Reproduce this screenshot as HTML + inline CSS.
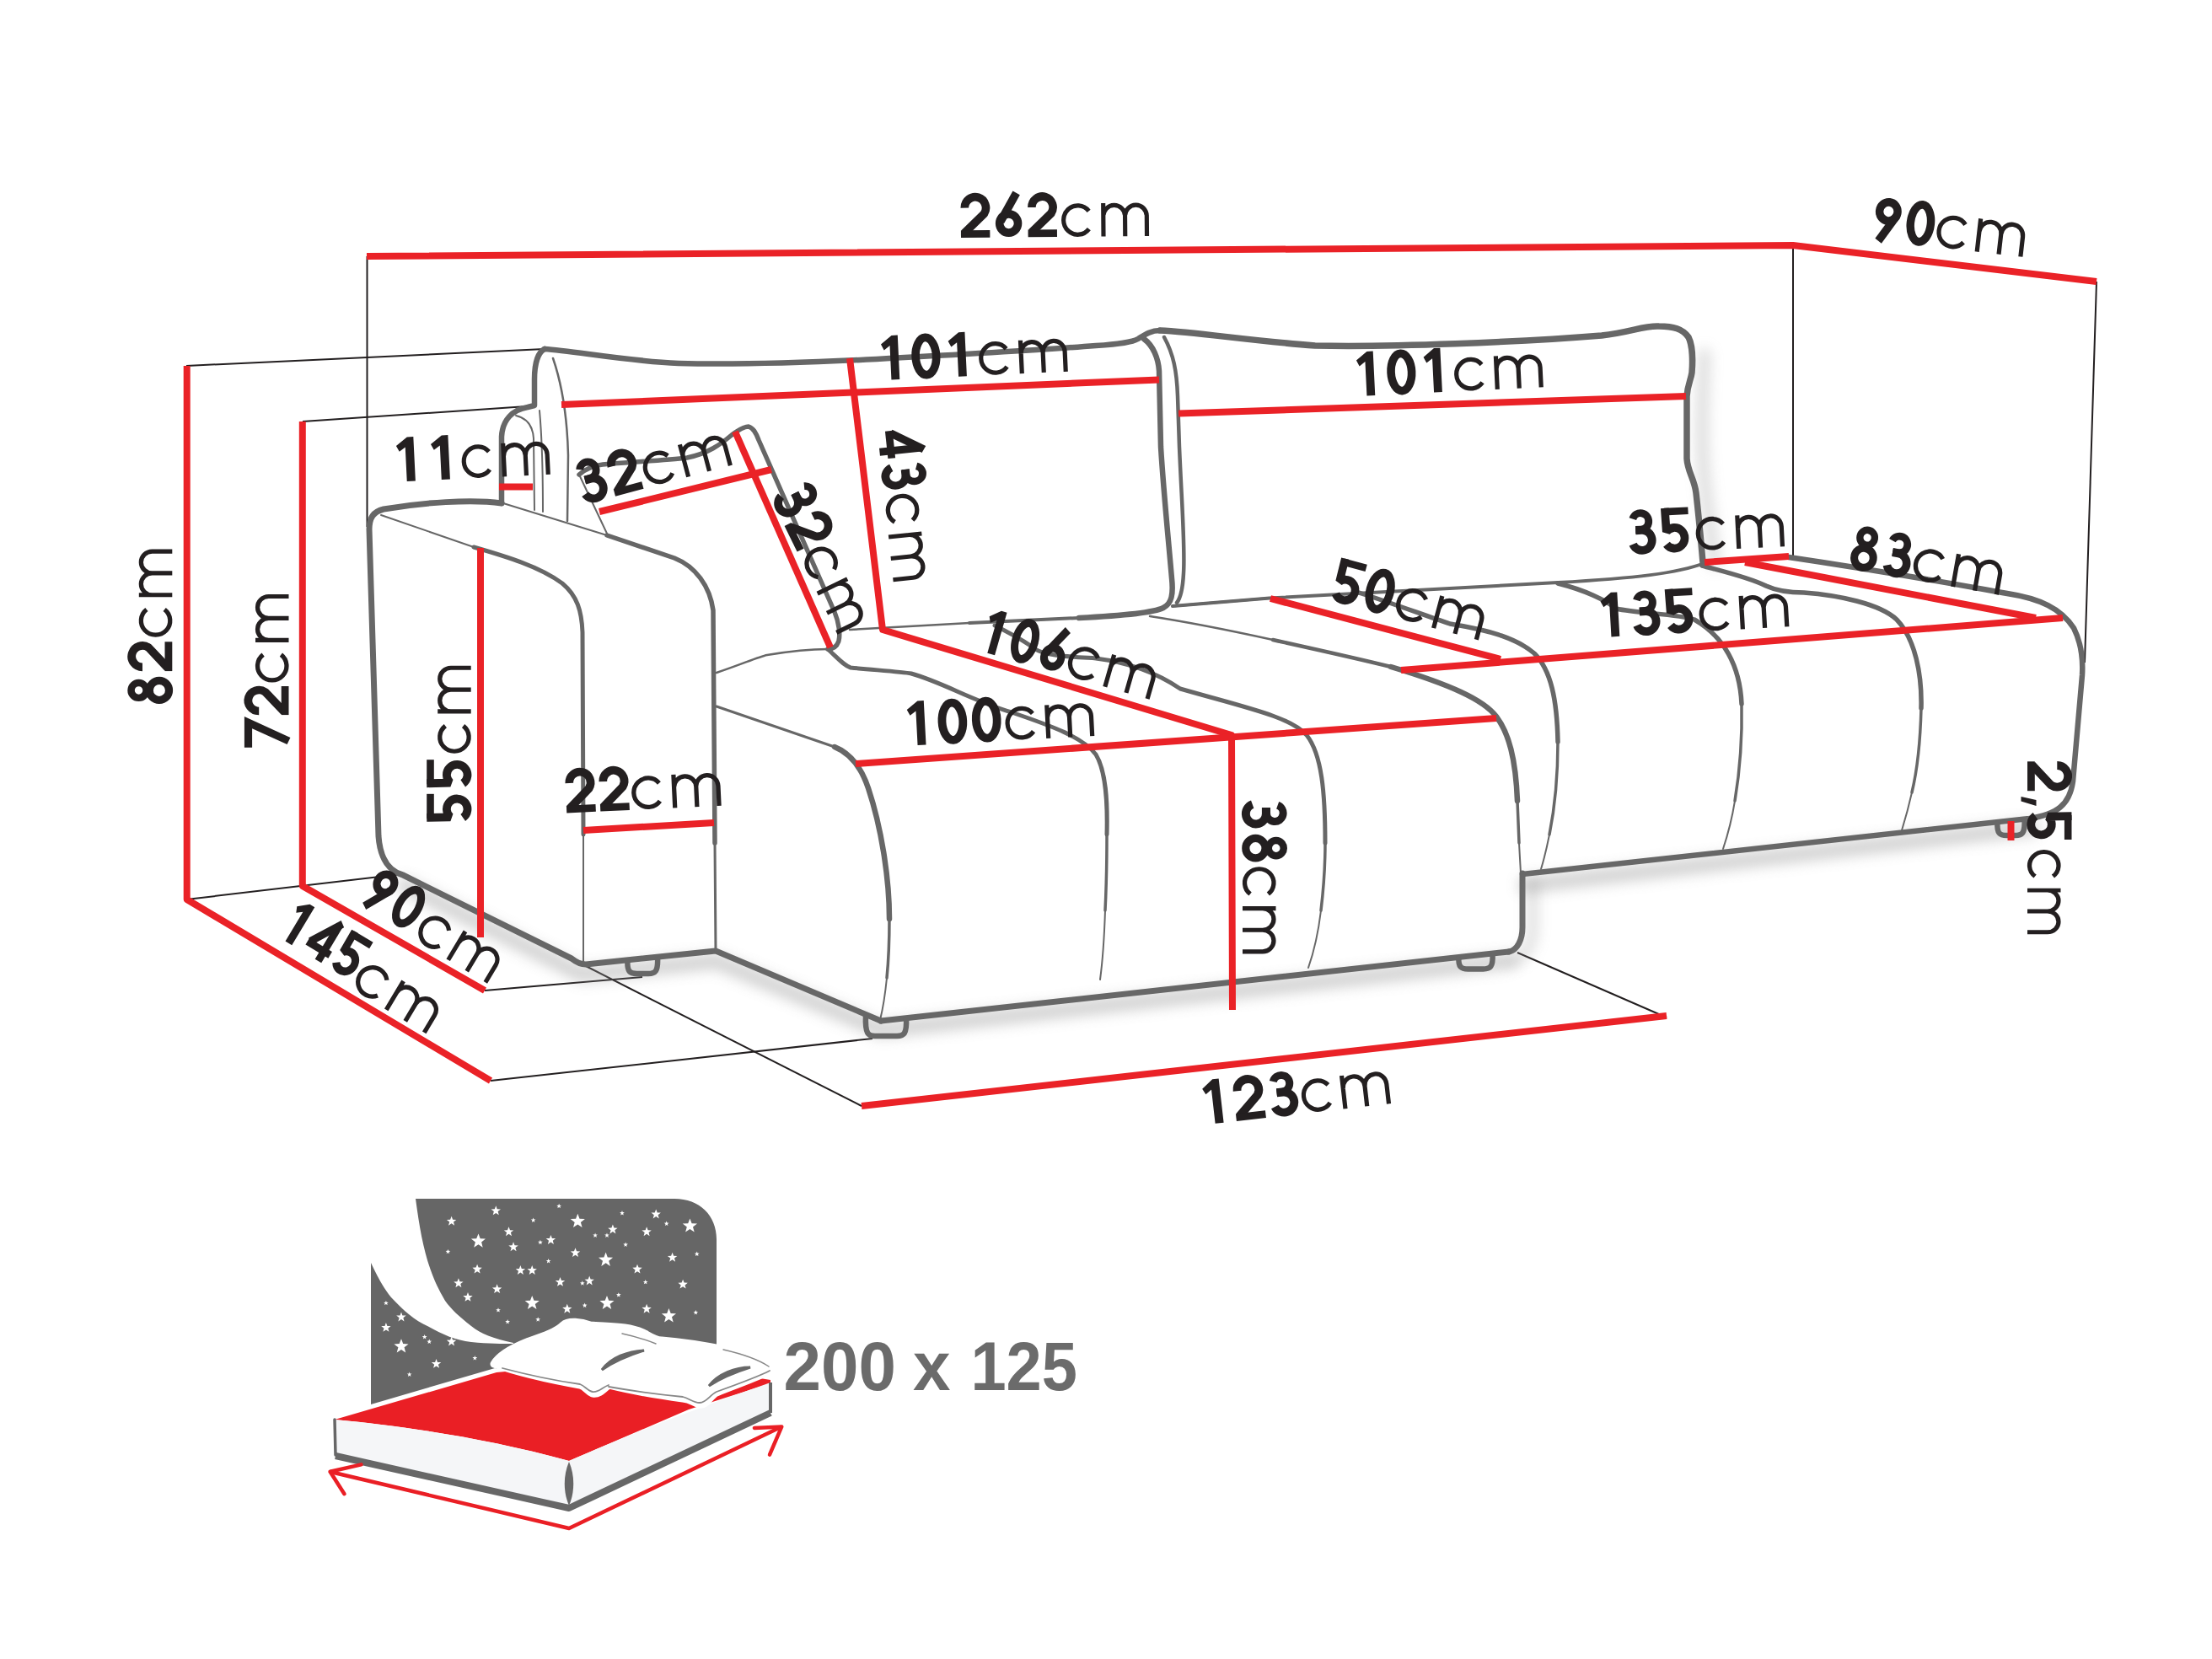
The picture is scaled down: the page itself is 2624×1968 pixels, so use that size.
<!DOCTYPE html>
<html><head><meta charset="utf-8"><style>
html,body{margin:0;padding:0;background:#fff;}
svg{display:block;}
.cm{stroke:#fff;stroke-width:1.8px;}
</style></head><body>
<svg width="2624" height="1968" viewBox="0 0 2624 1968">
<defs><filter id="blur" filterUnits="userSpaceOnUse" x="0" y="0" width="2624" height="1968"><feGaussianBlur stdDeviation="8"/></filter></defs>
<rect width="2624" height="1968" fill="#fff"/>
<path d="M 435.5,304.0 L 435.5,625.0" stroke="#231f20" stroke-width="2.0" fill="none" stroke-linecap="butt" stroke-linejoin="round"/>
<path d="M 221.0,434.0 L 646.0,414.0" stroke="#231f20" stroke-width="2.0" fill="none" stroke-linecap="butt" stroke-linejoin="round"/>
<path d="M 359.0,500.0 L 625.0,482.0" stroke="#231f20" stroke-width="2.0" fill="none" stroke-linecap="butt" stroke-linejoin="round"/>
<path d="M 2127.0,291.0 L 2127.0,660.0" stroke="#231f20" stroke-width="2.0" fill="none" stroke-linecap="butt" stroke-linejoin="round"/>
<path d="M 2487.0,334.0 L 2473.0,786.0" stroke="#231f20" stroke-width="2.0" fill="none" stroke-linecap="butt" stroke-linejoin="round"/>
<path d="M 221.0,1067.0 L 476.0,1037.0" stroke="#231f20" stroke-width="2.0" fill="none" stroke-linecap="butt" stroke-linejoin="round"/>
<path d="M 582.0,1282.0 L 1035.0,1232.0" stroke="#231f20" stroke-width="2.0" fill="none" stroke-linecap="butt" stroke-linejoin="round"/>
<path d="M 575.0,1175.0 L 762.0,1159.0" stroke="#231f20" stroke-width="2.0" fill="none" stroke-linecap="butt" stroke-linejoin="round"/>
<path d="M 693.0,1145.0 L 1022.0,1312.0" stroke="#231f20" stroke-width="2.0" fill="none" stroke-linecap="butt" stroke-linejoin="round"/>
<path d="M 1800.0,1130.0 L 1977.0,1207.0" stroke="#231f20" stroke-width="2.0" fill="none" stroke-linecap="butt" stroke-linejoin="round"/>
<g filter="url(#blur)" opacity="0.45">
<path d="M 480,1050 L 690,1156 L 850,1140 L 1045,1222 L 1790,1140" stroke="#999" stroke-width="18.0" fill="none" stroke-linecap="round" stroke-linejoin="round"/>
<path d="M 1810,1050 L 2410,982" stroke="#999" stroke-width="18.0" fill="none" stroke-linecap="round" stroke-linejoin="round"/>
</g>
<path d="M 646,414 C 680,416 740,428 805,431 C 880,433 980,429 1040,426 C 1150,420 1250,414 1300,410 C 1330,408 1343,406 1350,402 C 1358,397 1365,392 1376,392" stroke="#676767" stroke-width="6.5" fill="none" stroke-linecap="round" stroke-linejoin="round"/>
<path d="M 646,414 C 638,418 634,432 634,450 L 634,481 L 626,483 C 608,486 596,498 595,518 L 595,597" stroke="#676767" stroke-width="6.5" fill="none" stroke-linecap="round" stroke-linejoin="round"/>
<g filter="url(#blur)" opacity="0.35">
<path d="M 2022,420 C 2020,470 2017,520 2022,570 C 2027,620 2032,650 2034,668" stroke="#999" stroke-width="14.0" fill="none" stroke-linecap="round" stroke-linejoin="round"/>
</g>
<path d="M 1376,392 C 1420,394 1480,404 1560,410 C 1650,412 1800,406 1900,398 C 1935,394 1950,386 1968,387 C 1985,387 1996,390 2003,400 C 2008,410 2008,430 2007,442 C 2006,450 2002,456 2001,470 L 2001,544 C 2002,560 2010,568 2012,585 C 2016,620 2018,645 2020,667" stroke="#676767" stroke-width="7.5" fill="none" stroke-linecap="round" stroke-linejoin="round"/>
<path d="M 1357,402 C 1368,410 1374,425 1375,440 L 1377,530 C 1380,580 1386,640 1390,686 C 1392,705 1390,716 1380,721 C 1370,726 1340,730 1280,733" stroke="#676767" stroke-width="6.5" fill="none" stroke-linecap="round" stroke-linejoin="round"/>
<path d="M 1280,733 L 1150,739" stroke="#676767" stroke-width="4.0" fill="none" stroke-linecap="round" stroke-linejoin="round"/>
<path d="M 1150,739 L 1008,747" stroke="#676767" stroke-width="2.5" fill="none" stroke-linecap="round" stroke-linejoin="round"/>
<path d="M 1381,400 C 1392,420 1396,440 1397,470 L 1399,530 C 1402,600 1406,650 1404,680 C 1403,700 1400,710 1396,715" stroke="#676767" stroke-width="4.5" fill="none" stroke-linecap="round" stroke-linejoin="round"/>
<path d="M 1391,719 L 1506,709.6 L 1848,691 C 1940,686 1990,680 2022,668" stroke="#676767" stroke-width="4.0" fill="none" stroke-linecap="round" stroke-linejoin="round"/>
<path d="M 1391,719 L 1506,709.6" stroke="#676767" stroke-width="3.0" fill="none" stroke-linecap="round" stroke-linejoin="round"/>
<path d="M 2122,661 C 2250,680 2330,695 2381,704 C 2420,710 2445,722 2460,745 C 2470,765 2471,785 2470,801 L 2459,927 C 2455,955 2440,966 2407,971 L 1806,1037" stroke="#676767" stroke-width="6.5" fill="none" stroke-linecap="round" stroke-linejoin="round"/>
<path d="M 2019,671 C 2045,678 2075,685 2095,695 C 2110,702 2125,703 2140,703 C 2180,706 2230,716 2250,735 C 2272,758 2280,800 2279,840" stroke="#676767" stroke-width="5.5" fill="none" stroke-linecap="round" stroke-linejoin="round"/>
<path d="M 2279,840 C 2278,880 2274,915 2268,940" stroke="#676767" stroke-width="3.5" fill="none" stroke-linecap="round" stroke-linejoin="round"/>
<path d="M 2268,940 C 2264,958 2260,972 2256,985" stroke="#676767" stroke-width="2.0" fill="none" stroke-linecap="round" stroke-linejoin="round"/>
<path d="M 1848,692 C 1880,700 1905,712 1917,722 C 1945,728 1990,728 2010,735 C 2045,755 2064,790 2066,835" stroke="#676767" stroke-width="5.5" fill="none" stroke-linecap="round" stroke-linejoin="round"/>
<path d="M 2066,835 C 2067,880 2063,920 2058,950" stroke="#676767" stroke-width="3.5" fill="none" stroke-linecap="round" stroke-linejoin="round"/>
<path d="M 2058,950 C 2054,975 2049,992 2044,1007" stroke="#676767" stroke-width="2.0" fill="none" stroke-linecap="round" stroke-linejoin="round"/>
<path d="M 1612,703 C 1650,715 1690,730 1720,740 C 1770,748 1800,758 1820,775 C 1840,795 1847,830 1848,880" stroke="#676767" stroke-width="5.5" fill="none" stroke-linecap="round" stroke-linejoin="round"/>
<path d="M 1848,880 C 1848,930 1844,960 1838,990" stroke="#676767" stroke-width="3.5" fill="none" stroke-linecap="round" stroke-linejoin="round"/>
<path d="M 1838,990 C 1835,1005 1832,1018 1828,1031" stroke="#676767" stroke-width="2.0" fill="none" stroke-linecap="round" stroke-linejoin="round"/>
<path d="M 1364,731 C 1410,738 1460,748 1510,759" stroke="#676767" stroke-width="2.5" fill="none" stroke-linecap="round" stroke-linejoin="round"/>
<path d="M 1510,759 C 1560,770 1610,781 1650,791" stroke="#676767" stroke-width="4.5" fill="none" stroke-linecap="round" stroke-linejoin="round"/>
<path d="M 1650,791 C 1720,812 1760,830 1775,850 C 1790,870 1798,900 1800,950" stroke="#676767" stroke-width="6.5" fill="none" stroke-linecap="round" stroke-linejoin="round"/>
<path d="M 1800,950 L 1802,1000" stroke="#676767" stroke-width="3.5" fill="none" stroke-linecap="round" stroke-linejoin="round"/>
<path d="M 1802,1000 L 1804,1036" stroke="#676767" stroke-width="2.0" fill="none" stroke-linecap="round" stroke-linejoin="round"/>
<path d="M 1806,1036 L 1806,1100 C 1806,1115 1800,1127 1790,1129" stroke="#676767" stroke-width="7.0" fill="none" stroke-linecap="round" stroke-linejoin="round"/>
<g filter="url(#blur)" opacity="0.35">
<path d="M 1818,1045 L 1818,1105 C 1816,1125 1808,1135 1795,1140" stroke="#999" stroke-width="12.0" fill="none" stroke-linecap="round" stroke-linejoin="round"/>
</g>
<path d="M 1045,1211 L 1790,1129" stroke="#676767" stroke-width="7.0" fill="none" stroke-linecap="round" stroke-linejoin="round"/>
<path d="M 990,886 C 1005,892 1020,905 1030,935 C 1045,980 1055,1040 1055,1090" stroke="#676767" stroke-width="6.5" fill="none" stroke-linecap="round" stroke-linejoin="round"/>
<path d="M 1055,1090 C 1055,1120 1054,1140 1052,1160" stroke="#676767" stroke-width="3.5" fill="none" stroke-linecap="round" stroke-linejoin="round"/>
<path d="M 1052,1160 C 1050,1180 1047,1198 1044,1210" stroke="#676767" stroke-width="2.0" fill="none" stroke-linecap="round" stroke-linejoin="round"/>
<path d="M 850,838 C 900,855 950,872 990,886" stroke="#676767" stroke-width="3.0" fill="none" stroke-linecap="round" stroke-linejoin="round"/>
<path d="M 982,770 C 995,782 1002,790 1009,792 C 1040,795 1070,797 1081,799 C 1120,810 1150,830 1200,845 C 1250,862 1285,875 1300,895 C 1312,915 1314,950 1313,990" stroke="#676767" stroke-width="5.0" fill="none" stroke-linecap="round" stroke-linejoin="round"/>
<path d="M 1313,990 C 1313,1030 1312,1060 1311,1080" stroke="#676767" stroke-width="3.5" fill="none" stroke-linecap="round" stroke-linejoin="round"/>
<path d="M 1311,1080 C 1310,1110 1308,1140 1305,1162" stroke="#676767" stroke-width="2.0" fill="none" stroke-linecap="round" stroke-linejoin="round"/>
<path d="M 1180,742 C 1200,752 1215,760 1228,770 C 1240,778 1270,779 1300,781 C 1340,786 1375,800 1400,817 C 1480,840 1530,850 1550,872 C 1568,895 1572,940 1572,1000" stroke="#676767" stroke-width="5.0" fill="none" stroke-linecap="round" stroke-linejoin="round"/>
<path d="M 1572,1000 C 1572,1030 1570,1055 1567,1080" stroke="#676767" stroke-width="3.5" fill="none" stroke-linecap="round" stroke-linejoin="round"/>
<path d="M 1567,1080 C 1564,1105 1559,1128 1552,1148" stroke="#676767" stroke-width="2.0" fill="none" stroke-linecap="round" stroke-linejoin="round"/>
<path d="M 687,563 C 695,556 705,552 715,551 C 750,548 790,546 815,543 C 840,538 855,527 868,516 C 876,510 882,506 888,506 C 894,508 897,514 900,522 L 990,726 C 995,738 997,752 995,760 C 993,767 988,770 982,770" stroke="#676767" stroke-width="5.5" fill="none" stroke-linecap="round" stroke-linejoin="round"/>
<path d="M 687,563 L 721,635" stroke="#676767" stroke-width="2.0" fill="none" stroke-linecap="round" stroke-linejoin="round"/>
<path d="M 850,798 C 880,788 900,779 910,777 C 940,772 960,770 982,770" stroke="#676767" stroke-width="2.5" fill="none" stroke-linecap="round" stroke-linejoin="round"/>
<path d="M 612,493 C 625,496 632,505 633,520 L 634,605" stroke="#676767" stroke-width="2.0" fill="none" stroke-linecap="round" stroke-linejoin="round"/>
<path d="M 656,425 C 668,460 673,500 674,540 L 673,618" stroke="#676767" stroke-width="2.5" fill="none" stroke-linecap="round" stroke-linejoin="round"/>
<path d="M 640,487 C 643,520 644,560 644,607" stroke="#676767" stroke-width="2.0" fill="none" stroke-linecap="round" stroke-linejoin="round"/>
<path d="M 595,597 C 560,592 500,596 455,604 C 443,607 438,614 438,628 L 449,992 C 451,1020 463,1034 478,1038 L 678,1137 C 683,1141 688,1144 695,1144 L 849,1128 L 1045,1211" stroke="#676767" stroke-width="7.0" fill="none" stroke-linecap="round" stroke-linejoin="round"/>
<path d="M 452,611 L 562,649" stroke="#676767" stroke-width="2.0" fill="none" stroke-linecap="round" stroke-linejoin="round"/>
<path d="M 562,649 C 600,660 640,672 667,692 C 685,707 690,725 691,750 L 692,990" stroke="#676767" stroke-width="5.0" fill="none" stroke-linecap="round" stroke-linejoin="round"/>
<path d="M 692,990 L 692,1142" stroke="#676767" stroke-width="2.0" fill="none" stroke-linecap="round" stroke-linejoin="round"/>
<path d="M 597,597 L 720,635" stroke="#676767" stroke-width="2.0" fill="none" stroke-linecap="round" stroke-linejoin="round"/>
<path d="M 720,635 L 800,662 C 825,672 842,695 846,724 L 848,1000" stroke="#676767" stroke-width="5.5" fill="none" stroke-linecap="round" stroke-linejoin="round"/>
<path d="M 848,1000 L 849,1128" stroke="#676767" stroke-width="3.0" fill="none" stroke-linecap="round" stroke-linejoin="round"/>
<path d="M 744.5,1138.0 C 743.5,1153.0 747.5,1155.0 755.5,1155.0 L 769.0,1155.0 C 777.0,1155.0 781.0,1153.0 780.0,1135.0" stroke="#676767" stroke-width="6.5" fill="none" stroke-linecap="butt" stroke-linejoin="round"/>
<path d="M 1027.0,1204.0 C 1026.0,1227.0 1030.0,1229.0 1038.0,1229.0 L 1064.0,1229.0 C 1072.0,1229.0 1076.0,1227.0 1075.0,1207.0" stroke="#676767" stroke-width="6.5" fill="none" stroke-linecap="butt" stroke-linejoin="round"/>
<path d="M 1730.5,1135.0 C 1729.5,1147.5 1733.5,1149.5 1741.5,1149.5 L 1759.5,1149.5 C 1767.5,1149.5 1771.5,1147.5 1770.5,1131.0" stroke="#676767" stroke-width="6.5" fill="none" stroke-linecap="butt" stroke-linejoin="round"/>
<path d="M 2369.5,975.0 C 2368.5,989.0 2372.5,991.0 2380.5,991.0 L 2390.5,991.0 C 2398.5,991.0 2402.5,989.0 2401.5,971.5" stroke="#676767" stroke-width="6.5" fill="none" stroke-linecap="butt" stroke-linejoin="round"/>
<path d="M 435.0,304.0 L 2127.0,291.0 L 2487.0,334.0" stroke="#ea2227" stroke-width="8.0" fill="none" stroke-linecap="butt" stroke-linejoin="round"/>
<path d="M 221.7,434.0 L 221.7,1067.0 L 582.0,1282.0" stroke="#ea2227" stroke-width="8.0" fill="none" stroke-linecap="butt" stroke-linejoin="round"/>
<path d="M 358.8,500.0 L 358.8,1051.0 L 575.0,1175.0" stroke="#ea2227" stroke-width="8.0" fill="none" stroke-linecap="butt" stroke-linejoin="round"/>
<path d="M 570.0,650.0 L 570.0,1112.0" stroke="#ea2227" stroke-width="8.0" fill="none" stroke-linecap="butt" stroke-linejoin="round"/>
<path d="M 692.0,985.0 L 847.0,976.0" stroke="#ea2227" stroke-width="8.0" fill="none" stroke-linecap="butt" stroke-linejoin="round"/>
<path d="M 592.0,577.6 L 632.0,577.6" stroke="#ea2227" stroke-width="8.0" fill="none" stroke-linecap="butt" stroke-linejoin="round"/>
<path d="M 666.0,480.0 L 1375.0,450.5" stroke="#ea2227" stroke-width="8.0" fill="none" stroke-linecap="butt" stroke-linejoin="round"/>
<path d="M 1398.0,490.5 L 2000.0,470.0" stroke="#ea2227" stroke-width="8.0" fill="none" stroke-linecap="butt" stroke-linejoin="round"/>
<path d="M 1008.0,425.0 L 1047.0,747.0 L 1461.0,872.0 L 1462.0,1198.0" stroke="#ea2227" stroke-width="8.0" fill="none" stroke-linecap="butt" stroke-linejoin="round"/>
<path d="M 1015.0,906.0 L 1775.0,852.0" stroke="#ea2227" stroke-width="8.0" fill="none" stroke-linecap="butt" stroke-linejoin="round"/>
<path d="M 1022.0,1312.0 L 1977.0,1205.0" stroke="#ea2227" stroke-width="8.0" fill="none" stroke-linecap="butt" stroke-linejoin="round"/>
<path d="M 711.0,607.0 L 915.0,557.0" stroke="#ea2227" stroke-width="8.0" fill="none" stroke-linecap="butt" stroke-linejoin="round"/>
<path d="M 872.0,512.0 L 985.0,768.0" stroke="#ea2227" stroke-width="8.0" fill="none" stroke-linecap="butt" stroke-linejoin="round"/>
<path d="M 1507.0,710.0 L 1780.0,782.0" stroke="#ea2227" stroke-width="8.0" fill="none" stroke-linecap="butt" stroke-linejoin="round"/>
<path d="M 1662.0,795.0 L 2447.0,733.0" stroke="#ea2227" stroke-width="8.0" fill="none" stroke-linecap="butt" stroke-linejoin="round"/>
<path d="M 2022.0,667.0 L 2122.0,660.0" stroke="#ea2227" stroke-width="8.0" fill="none" stroke-linecap="butt" stroke-linejoin="round"/>
<path d="M 2070.0,667.0 L 2415.0,733.0" stroke="#ea2227" stroke-width="8.0" fill="none" stroke-linecap="butt" stroke-linejoin="round"/>
<path d="M 2385.5,974.0 L 2385.5,997.0" stroke="#ea2227" stroke-width="8.0" fill="none" stroke-linecap="butt" stroke-linejoin="round"/>
<g fill="#231f20" font-family="Liberation Sans">
<g transform="translate(1140.0,282.0) rotate(-0.50)"><g transform="translate(-2.70,0.00) scale(0.9828,1.0000)"><path transform="translate(0.00,0)" d="M 7.45,-35.3 A 12.8,12.8 0 1 1 30.73,-27.96 L 6.8,-5.5" fill="none" stroke="#231f20" stroke-width="9.8" stroke-linejoin="bevel"/><path transform="translate(0.00,0)" d="M 2.75,-4.4 L 37.75,-4.4" fill="none" stroke="#231f20" stroke-width="8.8" stroke-linejoin="bevel"/><path transform="translate(40.50,0)" d="M 8.9,-16.5 A 11.1,11.1 0 1 0 31.1,-16.5 A 11.1,11.1 0 1 0 8.9,-16.5 Z" fill="none" stroke="#231f20" stroke-width="9.8" stroke-linejoin="bevel"/><path transform="translate(40.50,0)" d="M 29.5,-52.5 L 10.2,-19" fill="none" stroke="#231f20" stroke-width="9.8" stroke-linejoin="bevel"/><path transform="translate(81.00,0)" d="M 7.45,-35.3 A 12.8,12.8 0 1 1 30.73,-27.96 L 6.8,-5.5" fill="none" stroke="#231f20" stroke-width="9.8" stroke-linejoin="bevel"/><path transform="translate(81.00,0)" d="M 2.75,-4.4 L 37.75,-4.4" fill="none" stroke="#231f20" stroke-width="8.8" stroke-linejoin="bevel"/></g><path transform="translate(120.00,0) scale(0.9904,1.0128)" d="M 32.2,-30.0 A 17,17 0 1 0 32.2,-9.0 M 49.5,0 L 49.5,-39 M 49.5,-23.5 A 13,13 0 0 1 75.5,-23.5 L 75.5,0 M 75.5,-23.5 A 13,13 0 0 1 101.5,-23.5 L 101.5,0" fill="none" stroke="#231f20" stroke-width="5.2"/></g>
<g transform="translate(2221.0,284.5) rotate(6.50)"><g transform="translate(-3.85,0.00) scale(0.9636,1.0000)"><path transform="translate(0.00,0)" d="M 8.9,-35.5 A 11.1,11.1 0 1 0 31.1,-35.5 A 11.1,11.1 0 1 0 8.9,-35.5 Z" fill="none" stroke="#231f20" stroke-width="9.8" stroke-linejoin="bevel"/><path transform="translate(0.00,0)" d="M 30.8,-32 L 11.5,0.5" fill="none" stroke="#231f20" stroke-width="9.8" stroke-linejoin="bevel"/><path transform="translate(40.50,0)" d="M 7.9,-26 A 12.45,22.1 0 1 0 32.8,-26 A 12.45,22.1 0 1 0 7.9,-26 Z" fill="none" stroke="#231f20" stroke-width="9.8" stroke-linejoin="bevel"/></g><path transform="translate(75.50,0) scale(1.0000,1.0128)" d="M 32.2,-30.0 A 17,17 0 1 0 32.2,-9.0 M 49.5,0 L 49.5,-39 M 49.5,-23.5 A 13,13 0 0 1 75.5,-23.5 L 75.5,0 M 75.5,-23.5 A 13,13 0 0 1 101.5,-23.5 L 101.5,0" fill="none" stroke="#231f20" stroke-width="5.2"/></g>
<g transform="translate(1047.0,451.0) rotate(-2.70)"><g transform="translate(-7.23,0.00) scale(0.9843,1.0000)"><path transform="translate(0.00,0)" d="M 17.95,0 L 27.95,0 L 27.95,-52.5 L 20.5,-52.5 L 7.35,-42.5 L 10.8,-35.5 L 17.95,-40.5 Z" fill="#231f20"/><path transform="translate(40.50,0)" d="M 7.9,-26 A 12.45,22.1 0 1 0 32.8,-26 A 12.45,22.1 0 1 0 7.9,-26 Z" fill="none" stroke="#231f20" stroke-width="9.8" stroke-linejoin="bevel"/><path transform="translate(81.00,0)" d="M 17.95,0 L 27.95,0 L 27.95,-52.5 L 20.5,-52.5 L 7.35,-42.5 L 10.8,-35.5 L 17.95,-40.5 Z" fill="#231f20"/></g><path transform="translate(116.00,0) scale(1.0000,1.0128)" d="M 32.2,-30.0 A 17,17 0 1 0 32.2,-9.0 M 49.5,0 L 49.5,-39 M 49.5,-23.5 A 13,13 0 0 1 75.5,-23.5 L 75.5,0 M 75.5,-23.5 A 13,13 0 0 1 101.5,-23.5 L 101.5,0" fill="none" stroke="#231f20" stroke-width="5.2"/></g>
<g transform="translate(1611.0,470.0) rotate(-2.80)"><g transform="translate(-7.23,0.00) scale(0.9843,1.0000)"><path transform="translate(0.00,0)" d="M 17.95,0 L 27.95,0 L 27.95,-52.5 L 20.5,-52.5 L 7.35,-42.5 L 10.8,-35.5 L 17.95,-40.5 Z" fill="#231f20"/><path transform="translate(40.50,0)" d="M 7.9,-26 A 12.45,22.1 0 1 0 32.8,-26 A 12.45,22.1 0 1 0 7.9,-26 Z" fill="none" stroke="#231f20" stroke-width="9.8" stroke-linejoin="bevel"/><path transform="translate(81.00,0)" d="M 17.95,0 L 27.95,0 L 27.95,-52.5 L 20.5,-52.5 L 7.35,-42.5 L 10.8,-35.5 L 17.95,-40.5 Z" fill="#231f20"/></g><path transform="translate(116.00,0) scale(1.0000,1.0128)" d="M 32.2,-30.0 A 17,17 0 1 0 32.2,-9.0 M 49.5,0 L 49.5,-39 M 49.5,-23.5 A 13,13 0 0 1 75.5,-23.5 L 75.5,0 M 75.5,-23.5 A 13,13 0 0 1 101.5,-23.5 L 101.5,0" fill="none" stroke="#231f20" stroke-width="5.2"/></g>
<g transform="translate(472.0,571.5) rotate(-2.80)"><g transform="translate(-7.46,0.00) scale(1.0147,1.0000)"><path transform="translate(0.00,0)" d="M 17.95,0 L 27.95,0 L 27.95,-52.5 L 20.5,-52.5 L 7.35,-42.5 L 10.8,-35.5 L 17.95,-40.5 Z" fill="#231f20"/><path transform="translate(40.50,0)" d="M 17.95,0 L 27.95,0 L 27.95,-52.5 L 20.5,-52.5 L 7.35,-42.5 L 10.8,-35.5 L 17.95,-40.5 Z" fill="#231f20"/></g><path transform="translate(77.50,0) scale(0.9952,1.0128)" d="M 32.2,-30.0 A 17,17 0 1 0 32.2,-9.0 M 49.5,0 L 49.5,-39 M 49.5,-23.5 A 13,13 0 0 1 75.5,-23.5 L 75.5,0 M 75.5,-23.5 A 13,13 0 0 1 101.5,-23.5 L 101.5,0" fill="none" stroke="#231f20" stroke-width="5.2"/></g>
<g transform="translate(692.0,599.0) rotate(-15.00)"><g transform="translate(-3.46,0.00) scale(0.9900,1.0000)"><path transform="translate(0.00,0)" d="M 10.29,-41.65 A 9.8,9.8 0 1 1 19.5,-28.5 L 13,-28.5" fill="none" stroke="#231f20" stroke-width="9.0" stroke-linejoin="bevel"/><path transform="translate(0.00,0)" d="M 13,-27.8 L 20.3,-27.8 A 12,12 0 1 1 9.02,-11.7" fill="none" stroke="#231f20" stroke-width="9.8" stroke-linejoin="bevel"/><path transform="translate(40.50,0)" d="M 7.45,-35.3 A 12.8,12.8 0 1 1 30.73,-27.96 L 6.8,-5.5" fill="none" stroke="#231f20" stroke-width="9.8" stroke-linejoin="bevel"/><path transform="translate(40.50,0)" d="M 2.75,-4.4 L 37.75,-4.4" fill="none" stroke="#231f20" stroke-width="8.8" stroke-linejoin="bevel"/></g><path transform="translate(80.00,0) scale(0.9904,1.0128)" d="M 32.2,-30.0 A 17,17 0 1 0 32.2,-9.0 M 49.5,0 L 49.5,-39 M 49.5,-23.5 A 13,13 0 0 1 75.5,-23.5 L 75.5,0 M 75.5,-23.5 A 13,13 0 0 1 101.5,-23.5 L 101.5,0" fill="none" stroke="#231f20" stroke-width="5.2"/></g>
<g transform="translate(913.6,589.0) rotate(64.00)"><g transform="translate(-3.42,0.00) scale(0.9766,1.0000)"><path transform="translate(0.00,0)" d="M 10.29,-41.65 A 9.8,9.8 0 1 1 19.5,-28.5 L 13,-28.5" fill="none" stroke="#231f20" stroke-width="9.0" stroke-linejoin="bevel"/><path transform="translate(0.00,0)" d="M 13,-27.8 L 20.3,-27.8 A 12,12 0 1 1 9.02,-11.7" fill="none" stroke="#231f20" stroke-width="9.8" stroke-linejoin="bevel"/><path transform="translate(40.50,0)" d="M 7.45,-35.3 A 12.8,12.8 0 1 1 30.73,-27.96 L 6.8,-5.5" fill="none" stroke="#231f20" stroke-width="9.8" stroke-linejoin="bevel"/><path transform="translate(40.50,0)" d="M 2.75,-4.4 L 37.75,-4.4" fill="none" stroke="#231f20" stroke-width="8.8" stroke-linejoin="bevel"/></g><path transform="translate(79.00,0) scale(0.9904,1.0128)" d="M 32.2,-30.0 A 17,17 0 1 0 32.2,-9.0 M 49.5,0 L 49.5,-39 M 49.5,-23.5 A 13,13 0 0 1 75.5,-23.5 L 75.5,0 M 75.5,-23.5 A 13,13 0 0 1 101.5,-23.5 L 101.5,0" fill="none" stroke="#231f20" stroke-width="5.2"/></g>
<g transform="translate(1041.0,512.6) rotate(84.00)"><g transform="translate(-2.33,0.00) scale(0.9309,1.0000)"><path transform="translate(0.00,0)" d="M 28,0 L 28,-50" fill="none" stroke="#231f20" stroke-width="9.8" stroke-linejoin="bevel"/><path transform="translate(0.00,0)" d="M 30.5,-52.5 L 5.5,-15" fill="none" stroke="#231f20" stroke-width="9.8" stroke-linejoin="bevel"/><path transform="translate(0.00,0)" d="M 2.5,-13.4 L 37.5,-13.4" fill="none" stroke="#231f20" stroke-width="8.8" stroke-linejoin="bevel"/><path transform="translate(40.50,0)" d="M 10.29,-41.65 A 9.8,9.8 0 1 1 19.5,-28.5 L 13,-28.5" fill="none" stroke="#231f20" stroke-width="9.0" stroke-linejoin="bevel"/><path transform="translate(40.50,0)" d="M 13,-27.8 L 20.3,-27.8 A 12,12 0 1 1 9.02,-11.7" fill="none" stroke="#231f20" stroke-width="9.8" stroke-linejoin="bevel"/></g><path transform="translate(76.60,0) scale(0.9808,1.0128)" d="M 32.2,-30.0 A 17,17 0 1 0 32.2,-9.0 M 49.5,0 L 49.5,-39 M 49.5,-23.5 A 13,13 0 0 1 75.5,-23.5 L 75.5,0 M 75.5,-23.5 A 13,13 0 0 1 101.5,-23.5 L 101.5,0" fill="none" stroke="#231f20" stroke-width="5.2"/></g>
<g transform="translate(558.7,975.4) rotate(-90.00)"><g transform="translate(-3.51,0.00) scale(1.0027,1.0000)"><path transform="translate(0.00,0)" d="M 9,-52.5 L 9.58,-24.4 A 12.3,12.3 0 1 1 8.92,-9.45" fill="none" stroke="#231f20" stroke-width="9.8" stroke-linejoin="bevel"/><path transform="translate(0.00,0)" d="M 8,-48.2 L 37,-48.2" fill="none" stroke="#231f20" stroke-width="8.6" stroke-linejoin="bevel"/><path transform="translate(40.50,0)" d="M 9,-52.5 L 9.58,-24.4 A 12.3,12.3 0 1 1 8.92,-9.45" fill="none" stroke="#231f20" stroke-width="9.8" stroke-linejoin="bevel"/><path transform="translate(40.50,0)" d="M 8,-48.2 L 37,-48.2" fill="none" stroke="#231f20" stroke-width="8.6" stroke-linejoin="bevel"/></g><path transform="translate(82.30,0) scale(0.9933,1.0128)" d="M 32.2,-30.0 A 17,17 0 1 0 32.2,-9.0 M 49.5,0 L 49.5,-39 M 49.5,-23.5 A 13,13 0 0 1 75.5,-23.5 L 75.5,0 M 75.5,-23.5 A 13,13 0 0 1 101.5,-23.5 L 101.5,0" fill="none" stroke="#231f20" stroke-width="5.2"/></g>
<g transform="translate(342.5,886.8) rotate(-90.00)"><g transform="translate(-3.41,0.00) scale(0.9739,1.0000)"><path transform="translate(0.00,0)" d="M 3.5,-48 L 34,-48 L 11.5,0" fill="none" stroke="#231f20" stroke-width="9.2" stroke-linejoin="miter"/><path transform="translate(40.50,0)" d="M 7.45,-35.3 A 12.8,12.8 0 1 1 30.73,-27.96 L 6.8,-5.5" fill="none" stroke="#231f20" stroke-width="9.8" stroke-linejoin="bevel"/><path transform="translate(40.50,0)" d="M 2.75,-4.4 L 37.75,-4.4" fill="none" stroke="#231f20" stroke-width="8.8" stroke-linejoin="bevel"/></g><path transform="translate(78.10,0) scale(0.9971,1.0128)" d="M 32.2,-30.0 A 17,17 0 1 0 32.2,-9.0 M 49.5,0 L 49.5,-39 M 49.5,-23.5 A 13,13 0 0 1 75.5,-23.5 L 75.5,0 M 75.5,-23.5 A 13,13 0 0 1 101.5,-23.5 L 101.5,0" fill="none" stroke="#231f20" stroke-width="5.2"/></g>
<g transform="translate(204.3,835.1) rotate(-90.00)"><g transform="translate(-3.98,0.00) scale(0.9939,1.0000)"><path transform="translate(0.00,0)" d="M 11.25,-39.75 A 9,9 0 1 0 29.25,-39.75 A 9,9 0 1 0 11.25,-39.75 Z" fill="none" stroke="#231f20" stroke-width="8.5" stroke-linejoin="bevel"/><path transform="translate(0.00,0)" d="M 8.65,-15.4 A 11.6,11.6 0 1 0 31.85,-15.4 A 11.6,11.6 0 1 0 8.65,-15.4 Z" fill="none" stroke="#231f20" stroke-width="9.2" stroke-linejoin="bevel"/><path transform="translate(40.50,0)" d="M 7.45,-35.3 A 12.8,12.8 0 1 1 30.73,-27.96 L 6.8,-5.5" fill="none" stroke="#231f20" stroke-width="9.8" stroke-linejoin="bevel"/><path transform="translate(40.50,0)" d="M 2.75,-4.4 L 37.75,-4.4" fill="none" stroke="#231f20" stroke-width="8.8" stroke-linejoin="bevel"/></g><path transform="translate(80.10,0) scale(0.9942,1.0128)" d="M 32.2,-30.0 A 17,17 0 1 0 32.2,-9.0 M 49.5,0 L 49.5,-39 M 49.5,-23.5 A 13,13 0 0 1 75.5,-23.5 L 75.5,0 M 75.5,-23.5 A 13,13 0 0 1 101.5,-23.5 L 101.5,0" fill="none" stroke="#231f20" stroke-width="5.2"/></g>
<g transform="translate(672.3,964.5) rotate(-2.70)"><g transform="translate(-2.72,0.00) scale(0.9894,1.0000)"><path transform="translate(0.00,0)" d="M 7.45,-35.3 A 12.8,12.8 0 1 1 30.73,-27.96 L 6.8,-5.5" fill="none" stroke="#231f20" stroke-width="9.8" stroke-linejoin="bevel"/><path transform="translate(0.00,0)" d="M 2.75,-4.4 L 37.75,-4.4" fill="none" stroke="#231f20" stroke-width="8.8" stroke-linejoin="bevel"/><path transform="translate(40.50,0)" d="M 7.45,-35.3 A 12.8,12.8 0 1 1 30.73,-27.96 L 6.8,-5.5" fill="none" stroke="#231f20" stroke-width="9.8" stroke-linejoin="bevel"/><path transform="translate(40.50,0)" d="M 2.75,-4.4 L 37.75,-4.4" fill="none" stroke="#231f20" stroke-width="8.8" stroke-linejoin="bevel"/></g><path transform="translate(78.70,0) scale(1.0077,1.0128)" d="M 32.2,-30.0 A 17,17 0 1 0 32.2,-9.0 M 49.5,0 L 49.5,-39 M 49.5,-23.5 A 13,13 0 0 1 75.5,-23.5 L 75.5,0 M 75.5,-23.5 A 13,13 0 0 1 101.5,-23.5 L 101.5,0" fill="none" stroke="#231f20" stroke-width="5.2"/></g>
<g transform="translate(424.5,1074.4) rotate(31.00)"><g transform="translate(-3.67,-4.00) scale(0.9164,1.0000)"><path transform="translate(0.00,0)" d="M 8.9,-35.5 A 11.1,11.1 0 1 0 31.1,-35.5 A 11.1,11.1 0 1 0 8.9,-35.5 Z" fill="none" stroke="#231f20" stroke-width="9.8" stroke-linejoin="bevel"/><path transform="translate(0.00,0)" d="M 30.8,-32 L 11.5,0.5" fill="none" stroke="#231f20" stroke-width="9.8" stroke-linejoin="bevel"/><path transform="translate(40.50,0)" d="M 7.9,-26 A 12.45,22.1 0 1 0 32.8,-26 A 12.45,22.1 0 1 0 7.9,-26 Z" fill="none" stroke="#231f20" stroke-width="9.8" stroke-linejoin="bevel"/></g><path transform="translate(76.00,0) scale(0.9904,1.0128)" d="M 32.2,-30.0 A 17,17 0 1 0 32.2,-9.0 M 49.5,0 L 49.5,-39 M 49.5,-23.5 A 13,13 0 0 1 75.5,-23.5 L 75.5,0 M 75.5,-23.5 A 13,13 0 0 1 101.5,-23.5 L 101.5,0" fill="none" stroke="#231f20" stroke-width="5.2"/></g>
<g transform="translate(319.4,1114.4) rotate(31.00)"><g transform="translate(1.40,-8.00) scale(0.8981,1.0000)"><path transform="translate(0.00,0)" d="M 17.95,0 L 27.95,0 L 27.95,-52.5 L 20.5,-52.5 L 7.35,-42.5 L 10.8,-35.5 L 17.95,-40.5 Z" fill="#231f20"/><path transform="translate(40.50,0)" d="M 28,0 L 28,-50" fill="none" stroke="#231f20" stroke-width="9.8" stroke-linejoin="bevel"/><path transform="translate(40.50,0)" d="M 30.5,-52.5 L 5.5,-15" fill="none" stroke="#231f20" stroke-width="9.8" stroke-linejoin="bevel"/><path transform="translate(40.50,0)" d="M 2.5,-13.4 L 37.5,-13.4" fill="none" stroke="#231f20" stroke-width="8.8" stroke-linejoin="bevel"/><path transform="translate(81.00,0)" d="M 9,-52.5 L 9.58,-24.4 A 12.3,12.3 0 1 1 8.92,-9.45" fill="none" stroke="#231f20" stroke-width="9.8" stroke-linejoin="bevel"/><path transform="translate(81.00,0)" d="M 8,-48.2 L 37,-48.2" fill="none" stroke="#231f20" stroke-width="8.6" stroke-linejoin="bevel"/></g><path transform="translate(112.00,0) scale(1.0096,1.0128)" d="M 32.2,-30.0 A 17,17 0 1 0 32.2,-9.0 M 49.5,0 L 49.5,-39 M 49.5,-23.5 A 13,13 0 0 1 75.5,-23.5 L 75.5,0 M 75.5,-23.5 A 13,13 0 0 1 101.5,-23.5 L 101.5,0" fill="none" stroke="#231f20" stroke-width="5.2"/></g>
<g transform="translate(1162.0,772.0) rotate(16.00)"><g transform="translate(-6.70,0.00) scale(0.9120,1.0000)"><path transform="translate(0.00,0)" d="M 17.95,0 L 27.95,0 L 27.95,-52.5 L 20.5,-52.5 L 7.35,-42.5 L 10.8,-35.5 L 17.95,-40.5 Z" fill="#231f20"/><path transform="translate(40.50,0)" d="M 7.9,-26 A 12.45,22.1 0 1 0 32.8,-26 A 12.45,22.1 0 1 0 7.9,-26 Z" fill="none" stroke="#231f20" stroke-width="9.8" stroke-linejoin="bevel"/><path transform="translate(81.00,0)" d="M 8.9,-16.5 A 11.1,11.1 0 1 0 31.1,-16.5 A 11.1,11.1 0 1 0 8.9,-16.5 Z" fill="none" stroke="#231f20" stroke-width="9.8" stroke-linejoin="bevel"/><path transform="translate(81.00,0)" d="M 29.5,-52.5 L 10.2,-19" fill="none" stroke="#231f20" stroke-width="9.8" stroke-linejoin="bevel"/></g><path transform="translate(105.00,0) scale(1.0058,1.0128)" d="M 32.2,-30.0 A 17,17 0 1 0 32.2,-9.0 M 49.5,0 L 49.5,-39 M 49.5,-23.5 A 13,13 0 0 1 75.5,-23.5 L 75.5,0 M 75.5,-23.5 A 13,13 0 0 1 101.5,-23.5 L 101.5,0" fill="none" stroke="#231f20" stroke-width="5.2"/></g>
<g transform="translate(1078.0,884.5) rotate(-3.00)"><g transform="translate(-7.33,0.00) scale(0.9969,1.0000)"><path transform="translate(0.00,0)" d="M 17.95,0 L 27.95,0 L 27.95,-52.5 L 20.5,-52.5 L 7.35,-42.5 L 10.8,-35.5 L 17.95,-40.5 Z" fill="#231f20"/><path transform="translate(40.50,0)" d="M 7.9,-26 A 12.45,22.1 0 1 0 32.8,-26 A 12.45,22.1 0 1 0 7.9,-26 Z" fill="none" stroke="#231f20" stroke-width="9.8" stroke-linejoin="bevel"/><path transform="translate(81.00,0)" d="M 7.9,-26 A 12.45,22.1 0 1 0 32.8,-26 A 12.45,22.1 0 1 0 7.9,-26 Z" fill="none" stroke="#231f20" stroke-width="9.8" stroke-linejoin="bevel"/></g><path transform="translate(116.50,0) scale(1.0000,1.0128)" d="M 32.2,-30.0 A 17,17 0 1 0 32.2,-9.0 M 49.5,0 L 49.5,-39 M 49.5,-23.5 A 13,13 0 0 1 75.5,-23.5 L 75.5,0 M 75.5,-23.5 A 13,13 0 0 1 101.5,-23.5 L 101.5,0" fill="none" stroke="#231f20" stroke-width="5.2"/></g>
<g transform="translate(1474.0,948.5) rotate(90.00)"><g transform="translate(-3.52,0.00) scale(1.0068,1.0000)"><path transform="translate(0.00,0)" d="M 10.29,-41.65 A 9.8,9.8 0 1 1 19.5,-28.5 L 13,-28.5" fill="none" stroke="#231f20" stroke-width="9.0" stroke-linejoin="bevel"/><path transform="translate(0.00,0)" d="M 13,-27.8 L 20.3,-27.8 A 12,12 0 1 1 9.02,-11.7" fill="none" stroke="#231f20" stroke-width="9.8" stroke-linejoin="bevel"/><path transform="translate(40.50,0)" d="M 11.25,-39.75 A 9,9 0 1 0 29.25,-39.75 A 9,9 0 1 0 11.25,-39.75 Z" fill="none" stroke="#231f20" stroke-width="8.5" stroke-linejoin="bevel"/><path transform="translate(40.50,0)" d="M 8.65,-15.4 A 11.6,11.6 0 1 0 31.85,-15.4 A 11.6,11.6 0 1 0 8.65,-15.4 Z" fill="none" stroke="#231f20" stroke-width="9.2" stroke-linejoin="bevel"/></g><path transform="translate(80.40,0) scale(0.9846,1.0128)" d="M 32.2,-30.0 A 17,17 0 1 0 32.2,-9.0 M 49.5,0 L 49.5,-39 M 49.5,-23.5 A 13,13 0 0 1 75.5,-23.5 L 75.5,0 M 75.5,-23.5 A 13,13 0 0 1 101.5,-23.5 L 101.5,0" fill="none" stroke="#231f20" stroke-width="5.2"/></g>
<g transform="translate(1431.0,1334.0) rotate(-6.50)"><g transform="translate(-7.40,0.00) scale(1.0068,1.0000)"><path transform="translate(0.00,0)" d="M 17.95,0 L 27.95,0 L 27.95,-52.5 L 20.5,-52.5 L 7.35,-42.5 L 10.8,-35.5 L 17.95,-40.5 Z" fill="#231f20"/><path transform="translate(40.50,0)" d="M 7.45,-35.3 A 12.8,12.8 0 1 1 30.73,-27.96 L 6.8,-5.5" fill="none" stroke="#231f20" stroke-width="9.8" stroke-linejoin="bevel"/><path transform="translate(40.50,0)" d="M 2.75,-4.4 L 37.75,-4.4" fill="none" stroke="#231f20" stroke-width="8.8" stroke-linejoin="bevel"/><path transform="translate(81.00,0)" d="M 10.29,-41.65 A 9.8,9.8 0 1 1 19.5,-28.5 L 13,-28.5" fill="none" stroke="#231f20" stroke-width="9.0" stroke-linejoin="bevel"/><path transform="translate(81.00,0)" d="M 13,-27.8 L 20.3,-27.8 A 12,12 0 1 1 9.02,-11.7" fill="none" stroke="#231f20" stroke-width="9.8" stroke-linejoin="bevel"/></g><path transform="translate(116.70,0) scale(0.9971,1.0128)" d="M 32.2,-30.0 A 17,17 0 1 0 32.2,-9.0 M 49.5,0 L 49.5,-39 M 49.5,-23.5 A 13,13 0 0 1 75.5,-23.5 L 75.5,0 M 75.5,-23.5 A 13,13 0 0 1 101.5,-23.5 L 101.5,0" fill="none" stroke="#231f20" stroke-width="5.2"/></g>
<g transform="translate(1577.0,712.0) rotate(15.00)"><g transform="translate(-3.37,0.00) scale(0.9639,1.0000)"><path transform="translate(0.00,0)" d="M 9,-52.5 L 9.58,-24.4 A 12.3,12.3 0 1 1 8.92,-9.45" fill="none" stroke="#231f20" stroke-width="9.8" stroke-linejoin="bevel"/><path transform="translate(0.00,0)" d="M 8,-48.2 L 37,-48.2" fill="none" stroke="#231f20" stroke-width="8.6" stroke-linejoin="bevel"/><path transform="translate(40.50,0)" d="M 7.9,-26 A 12.45,22.1 0 1 0 32.8,-26 A 12.45,22.1 0 1 0 7.9,-26 Z" fill="none" stroke="#231f20" stroke-width="9.8" stroke-linejoin="bevel"/></g><path transform="translate(78.00,0) scale(1.0096,1.0128)" d="M 32.2,-30.0 A 17,17 0 1 0 32.2,-9.0 M 49.5,0 L 49.5,-39 M 49.5,-23.5 A 13,13 0 0 1 75.5,-23.5 L 75.5,0 M 75.5,-23.5 A 13,13 0 0 1 101.5,-23.5 L 101.5,0" fill="none" stroke="#231f20" stroke-width="5.2"/></g>
<g transform="translate(1901.0,756.0) rotate(-3.30)"><g transform="translate(-7.26,0.00) scale(0.9879,1.0000)"><path transform="translate(0.00,0)" d="M 17.95,0 L 27.95,0 L 27.95,-52.5 L 20.5,-52.5 L 7.35,-42.5 L 10.8,-35.5 L 17.95,-40.5 Z" fill="#231f20"/><path transform="translate(40.50,0)" d="M 10.29,-41.65 A 9.8,9.8 0 1 1 19.5,-28.5 L 13,-28.5" fill="none" stroke="#231f20" stroke-width="9.0" stroke-linejoin="bevel"/><path transform="translate(40.50,0)" d="M 13,-27.8 L 20.3,-27.8 A 12,12 0 1 1 9.02,-11.7" fill="none" stroke="#231f20" stroke-width="9.8" stroke-linejoin="bevel"/><path transform="translate(81.00,0)" d="M 9,-52.5 L 9.58,-24.4 A 12.3,12.3 0 1 1 8.92,-9.45" fill="none" stroke="#231f20" stroke-width="9.8" stroke-linejoin="bevel"/><path transform="translate(81.00,0)" d="M 8,-48.2 L 37,-48.2" fill="none" stroke="#231f20" stroke-width="8.6" stroke-linejoin="bevel"/></g><path transform="translate(116.70,0) scale(1.0096,1.0128)" d="M 32.2,-30.0 A 17,17 0 1 0 32.2,-9.0 M 49.5,0 L 49.5,-39 M 49.5,-23.5 A 13,13 0 0 1 75.5,-23.5 L 75.5,0 M 75.5,-23.5 A 13,13 0 0 1 101.5,-23.5 L 101.5,0" fill="none" stroke="#231f20" stroke-width="5.2"/></g>
<g transform="translate(1932.3,657.5) rotate(-2.90)"><g transform="translate(-3.44,0.00) scale(0.9826,1.0000)"><path transform="translate(0.00,0)" d="M 10.29,-41.65 A 9.8,9.8 0 1 1 19.5,-28.5 L 13,-28.5" fill="none" stroke="#231f20" stroke-width="9.0" stroke-linejoin="bevel"/><path transform="translate(0.00,0)" d="M 13,-27.8 L 20.3,-27.8 A 12,12 0 1 1 9.02,-11.7" fill="none" stroke="#231f20" stroke-width="9.8" stroke-linejoin="bevel"/><path transform="translate(40.50,0)" d="M 9,-52.5 L 9.58,-24.4 A 12.3,12.3 0 1 1 8.92,-9.45" fill="none" stroke="#231f20" stroke-width="9.8" stroke-linejoin="bevel"/><path transform="translate(40.50,0)" d="M 8,-48.2 L 37,-48.2" fill="none" stroke="#231f20" stroke-width="8.6" stroke-linejoin="bevel"/></g><path transform="translate(81.30,0) scale(0.9962,1.0128)" d="M 32.2,-30.0 A 17,17 0 1 0 32.2,-9.0 M 49.5,0 L 49.5,-39 M 49.5,-23.5 A 13,13 0 0 1 75.5,-23.5 L 75.5,0 M 75.5,-23.5 A 13,13 0 0 1 101.5,-23.5 L 101.5,0" fill="none" stroke="#231f20" stroke-width="5.2"/></g>
<g transform="translate(2192.6,674.2) rotate(10.00)"><g transform="translate(-3.91,0.00) scale(0.9769,1.0000)"><path transform="translate(0.00,0)" d="M 11.25,-39.75 A 9,9 0 1 0 29.25,-39.75 A 9,9 0 1 0 11.25,-39.75 Z" fill="none" stroke="#231f20" stroke-width="8.5" stroke-linejoin="bevel"/><path transform="translate(0.00,0)" d="M 8.65,-15.4 A 11.6,11.6 0 1 0 31.85,-15.4 A 11.6,11.6 0 1 0 8.65,-15.4 Z" fill="none" stroke="#231f20" stroke-width="9.2" stroke-linejoin="bevel"/><path transform="translate(40.50,0)" d="M 10.29,-41.65 A 9.8,9.8 0 1 1 19.5,-28.5 L 13,-28.5" fill="none" stroke="#231f20" stroke-width="9.0" stroke-linejoin="bevel"/><path transform="translate(40.50,0)" d="M 13,-27.8 L 20.3,-27.8 A 12,12 0 1 1 9.02,-11.7" fill="none" stroke="#231f20" stroke-width="9.8" stroke-linejoin="bevel"/></g><path transform="translate(76.00,0) scale(1.0096,1.0128)" d="M 32.2,-30.0 A 17,17 0 1 0 32.2,-9.0 M 49.5,0 L 49.5,-39 M 49.5,-23.5 A 13,13 0 0 1 75.5,-23.5 L 75.5,0 M 75.5,-23.5 A 13,13 0 0 1 101.5,-23.5 L 101.5,0" fill="none" stroke="#231f20" stroke-width="5.2"/></g>
<g transform="translate(2405.0,903.3) rotate(90.00)"><g transform="translate(-2.74,0.00) scale(0.9979,1.0000)"><path transform="translate(0.00,0)" d="M 7.45,-35.3 A 12.8,12.8 0 1 1 30.73,-27.96 L 6.8,-5.5" fill="none" stroke="#231f20" stroke-width="9.8" stroke-linejoin="bevel"/><path transform="translate(0.00,0)" d="M 2.75,-4.4 L 37.75,-4.4" fill="none" stroke="#231f20" stroke-width="8.8" stroke-linejoin="bevel"/><path transform="translate(40.50,0)" d="M 8,-10.5 L 15,-10.5 L 9.5,7.5 L 4,7.5 Z" fill="#231f20"/><path transform="translate(58.65,0)" d="M 9,-52.5 L 9.58,-24.4 A 12.3,12.3 0 1 1 8.92,-9.45" fill="none" stroke="#231f20" stroke-width="9.8" stroke-linejoin="bevel"/><path transform="translate(58.65,0)" d="M 8,-48.2 L 37,-48.2" fill="none" stroke="#231f20" stroke-width="8.6" stroke-linejoin="bevel"/></g><path transform="translate(105.50,0) scale(0.9558,1.0128)" d="M 32.2,-30.0 A 17,17 0 1 0 32.2,-9.0 M 49.5,0 L 49.5,-39 M 49.5,-23.5 A 13,13 0 0 1 75.5,-23.5 L 75.5,0 M 75.5,-23.5 A 13,13 0 0 1 101.5,-23.5 L 101.5,0" fill="none" stroke="#231f20" stroke-width="5.2"/></g>
</g>
<g>
<path d="M 493,1422 L 800,1422 C 830,1422 850,1442 850,1470 L 850,1610 L 600,1625 L 609,1593 C 585,1588 570,1582 559,1573 C 545,1562 535,1553 528,1543 C 508,1510 500,1475 493,1422 Z" fill="#666666"/>
<path d="M 440,1498 C 448,1515 455,1528 464,1539 C 480,1556 492,1566 507,1573 C 525,1583 540,1590 559,1592 C 580,1594 595,1594 609,1594 L 600,1625 L 587,1623 L 440,1666 Z" fill="#666666"/>
<polygon points="567.5,1463.4 569.7,1469.3 576.0,1469.6 571.1,1473.6 572.7,1479.7 567.5,1476.2 562.2,1479.7 563.9,1473.6 558.9,1469.6 565.2,1469.3" fill="#fff"/>
<polygon points="685.3,1439.8 687.5,1445.8 693.9,1446.0 688.9,1450.0 690.6,1456.1 685.3,1452.6 680.0,1456.1 681.7,1450.0 676.7,1446.0 683.1,1445.8" fill="#fff"/>
<polygon points="718.6,1485.6 720.8,1491.5 727.1,1491.8 722.2,1495.7 723.9,1501.9 718.6,1498.3 713.3,1501.9 715.0,1495.7 710.0,1491.8 716.4,1491.5" fill="#fff"/>
<polygon points="818.4,1445.4 820.6,1451.3 827.0,1451.6 822.0,1455.5 823.7,1461.6 818.4,1458.1 813.1,1461.6 814.8,1455.5 809.8,1451.6 816.2,1451.3" fill="#fff"/>
<polygon points="631.2,1536.9 633.5,1542.8 639.8,1543.1 634.8,1547.0 636.5,1553.1 631.2,1549.6 625.9,1553.1 627.6,1547.0 622.7,1543.1 629.0,1542.8" fill="#fff"/>
<polygon points="720.0,1536.9 722.2,1542.8 728.5,1543.1 723.6,1547.0 725.2,1553.1 720.0,1549.6 714.7,1553.1 716.4,1547.0 711.4,1543.1 717.7,1542.8" fill="#fff"/>
<polygon points="793.4,1552.1 795.7,1558.1 802.0,1558.3 797.0,1562.3 798.7,1568.4 793.4,1564.9 788.1,1568.4 789.8,1562.3 784.9,1558.3 791.2,1558.1" fill="#fff"/>
<polygon points="476.0,1588.2 478.2,1594.1 484.5,1594.4 479.6,1598.3 481.2,1604.4 476.0,1600.9 470.7,1604.4 472.4,1598.3 467.4,1594.4 473.7,1594.1" fill="#fff"/>
<polygon points="588.3,1430.3 589.7,1434.3 594.0,1434.5 590.6,1437.1 591.8,1441.2 588.3,1438.9 584.7,1441.2 585.9,1437.1 582.5,1434.5 586.8,1434.3" fill="#fff"/>
<polygon points="535.6,1442.8 537.1,1446.8 541.3,1447.0 538.0,1449.6 539.1,1453.7 535.6,1451.3 532.0,1453.7 533.2,1449.6 529.9,1447.0 534.1,1446.8" fill="#fff"/>
<polygon points="603.5,1455.3 605.0,1459.3 609.2,1459.4 605.9,1462.1 607.0,1466.2 603.5,1463.8 600.0,1466.2 601.1,1462.1 597.8,1459.4 602.0,1459.3" fill="#fff"/>
<polygon points="653.4,1465.0 654.9,1469.0 659.1,1469.1 655.8,1471.8 656.9,1475.9 653.4,1473.5 649.9,1475.9 651.0,1471.8 647.7,1469.1 651.9,1469.0" fill="#fff"/>
<polygon points="609.0,1473.3 610.5,1477.3 614.8,1477.5 611.4,1480.1 612.6,1484.2 609.0,1481.8 605.5,1484.2 606.7,1480.1 603.3,1477.5 607.6,1477.3" fill="#fff"/>
<polygon points="682.5,1480.3 684.0,1484.2 688.2,1484.4 684.9,1487.0 686.1,1491.1 682.5,1488.8 679.0,1491.1 680.1,1487.0 676.8,1484.4 681.0,1484.2" fill="#fff"/>
<polygon points="566.1,1499.7 567.6,1503.6 571.8,1503.8 568.5,1506.4 569.6,1510.5 566.1,1508.2 562.5,1510.5 563.7,1506.4 560.4,1503.8 564.6,1503.6" fill="#fff"/>
<polygon points="617.4,1501.0 618.8,1505.0 623.1,1505.2 619.8,1507.8 620.9,1511.9 617.4,1509.6 613.8,1511.9 615.0,1507.8 611.7,1505.2 615.9,1505.0" fill="#fff"/>
<polygon points="631.2,1501.0 632.7,1505.0 636.9,1505.2 633.6,1507.8 634.8,1511.9 631.2,1509.6 627.7,1511.9 628.8,1507.8 625.5,1505.2 629.7,1505.0" fill="#fff"/>
<polygon points="756.0,1499.7 757.5,1503.6 761.7,1503.8 758.4,1506.4 759.5,1510.5 756.0,1508.2 752.5,1510.5 753.6,1506.4 750.3,1503.8 754.5,1503.6" fill="#fff"/>
<polygon points="797.6,1485.8 799.1,1489.8 803.3,1489.9 800.0,1492.6 801.1,1496.7 797.6,1494.3 794.1,1496.7 795.2,1492.6 791.9,1489.9 796.1,1489.8" fill="#fff"/>
<polygon points="767.1,1455.3 768.6,1459.3 772.8,1459.4 769.5,1462.1 770.6,1466.2 767.1,1463.8 763.6,1466.2 764.7,1462.1 761.4,1459.4 765.6,1459.3" fill="#fff"/>
<polygon points="726.9,1452.5 728.4,1456.5 732.6,1456.7 729.3,1459.3 730.4,1463.4 726.9,1461.0 723.4,1463.4 724.5,1459.3 721.2,1456.7 725.4,1456.5" fill="#fff"/>
<polygon points="778.2,1434.5 779.7,1438.5 783.9,1438.6 780.6,1441.3 781.7,1445.4 778.2,1443.0 774.7,1445.4 775.8,1441.3 772.5,1438.6 776.7,1438.5" fill="#fff"/>
<polygon points="543.9,1516.3 545.4,1520.3 549.6,1520.4 546.3,1523.1 547.4,1527.2 543.9,1524.8 540.4,1527.2 541.5,1523.1 538.2,1520.4 542.4,1520.3" fill="#fff"/>
<polygon points="589.6,1523.2 591.1,1527.2 595.3,1527.4 592.0,1530.0 593.2,1534.1 589.6,1531.7 586.1,1534.1 587.2,1530.0 583.9,1527.4 588.2,1527.2" fill="#fff"/>
<polygon points="555.0,1532.9 556.5,1536.9 560.7,1537.1 557.4,1539.7 558.5,1543.8 555.0,1541.5 551.5,1543.8 552.6,1539.7 549.3,1537.1 553.5,1536.9" fill="#fff"/>
<polygon points="664.5,1514.9 666.0,1518.9 670.2,1519.1 666.9,1521.7 668.0,1525.8 664.5,1523.4 661.0,1525.8 662.1,1521.7 658.8,1519.1 663.0,1518.9" fill="#fff"/>
<polygon points="699.2,1513.5 700.6,1517.5 704.9,1517.7 701.6,1520.3 702.7,1524.4 699.2,1522.0 695.6,1524.4 696.8,1520.3 693.5,1517.7 697.7,1517.5" fill="#fff"/>
<polygon points="810.1,1517.7 811.6,1521.6 815.8,1521.8 812.5,1524.5 813.6,1528.5 810.1,1526.2 806.5,1528.5 807.7,1524.5 804.4,1521.8 808.6,1521.6" fill="#fff"/>
<polygon points="672.8,1546.8 674.3,1550.8 678.5,1550.9 675.2,1553.6 676.3,1557.7 672.8,1555.3 669.3,1557.7 670.4,1553.6 667.1,1550.9 671.3,1550.8" fill="#fff"/>
<polygon points="767.1,1546.8 768.6,1550.8 772.8,1550.9 769.5,1553.6 770.6,1557.7 767.1,1555.3 763.6,1557.7 764.7,1553.6 761.4,1550.9 765.6,1550.8" fill="#fff"/>
<polygon points="476.0,1556.5 477.4,1560.5 481.7,1560.6 478.4,1563.3 479.5,1567.4 476.0,1565.0 472.4,1567.4 473.6,1563.3 470.2,1560.6 474.5,1560.5" fill="#fff"/>
<polygon points="457.9,1569.0 459.4,1572.9 463.6,1573.1 460.3,1575.8 461.5,1579.8 457.9,1577.5 454.4,1579.8 455.5,1575.8 452.2,1573.1 456.5,1572.9" fill="#fff"/>
<polygon points="535.6,1585.6 537.1,1589.6 541.3,1589.8 538.0,1592.4 539.1,1596.5 535.6,1594.1 532.0,1596.5 533.2,1592.4 529.9,1589.8 534.1,1589.6" fill="#fff"/>
<polygon points="517.5,1612.0 519.0,1615.9 523.3,1616.1 519.9,1618.7 521.1,1622.8 517.5,1620.5 514.0,1622.8 515.2,1618.7 511.8,1616.1 516.1,1615.9" fill="#fff"/>
<polygon points="663.1,1427.8 663.9,1429.8 666.0,1429.9 664.3,1431.2 664.9,1433.2 663.1,1432.1 661.4,1433.2 661.9,1431.2 660.3,1429.9 662.4,1429.8" fill="#fff"/>
<polygon points="632.6,1444.4 633.4,1446.4 635.5,1446.5 633.8,1447.8 634.4,1449.9 632.6,1448.7 630.9,1449.9 631.4,1447.8 629.8,1446.5 631.9,1446.4" fill="#fff"/>
<polygon points="738.0,1436.1 738.7,1438.1 740.8,1438.2 739.2,1439.5 739.7,1441.5 738.0,1440.4 736.2,1441.5 736.8,1439.5 735.1,1438.2 737.2,1438.1" fill="#fff"/>
<polygon points="790.7,1448.6 791.4,1450.6 793.5,1450.7 791.9,1452.0 792.4,1454.0 790.7,1452.9 788.9,1454.0 789.5,1452.0 787.8,1450.7 789.9,1450.6" fill="#fff"/>
<polygon points="706.1,1462.5 706.8,1464.4 708.9,1464.5 707.3,1465.8 707.9,1467.9 706.1,1466.7 704.3,1467.9 704.9,1465.8 703.2,1464.5 705.4,1464.4" fill="#fff"/>
<polygon points="720.0,1462.5 720.7,1464.4 722.8,1464.5 721.2,1465.8 721.7,1467.9 720.0,1466.7 718.2,1467.9 718.8,1465.8 717.1,1464.5 719.2,1464.4" fill="#fff"/>
<polygon points="640.9,1470.8 641.7,1472.8 643.8,1472.8 642.1,1474.2 642.7,1476.2 640.9,1475.0 639.2,1476.2 639.7,1474.2 638.1,1472.8 640.2,1472.8" fill="#fff"/>
<polygon points="742.1,1473.5 742.9,1475.5 745.0,1475.6 743.3,1476.9 743.9,1479.0 742.1,1477.8 740.4,1479.0 740.9,1476.9 739.3,1475.6 741.4,1475.5" fill="#fff"/>
<polygon points="531.4,1481.9 532.2,1483.8 534.3,1483.9 532.6,1485.3 533.2,1487.3 531.4,1486.1 529.6,1487.3 530.2,1485.3 528.6,1483.9 530.7,1483.8" fill="#fff"/>
<polygon points="650.6,1493.0 651.4,1494.9 653.5,1495.0 651.8,1496.3 652.4,1498.4 650.6,1497.2 648.9,1498.4 649.4,1496.3 647.8,1495.0 649.9,1494.9" fill="#fff"/>
<polygon points="826.7,1484.6 827.5,1486.6 829.6,1486.7 827.9,1488.0 828.5,1490.1 826.7,1488.9 824.9,1490.1 825.5,1488.0 823.9,1486.7 826.0,1486.6" fill="#fff"/>
<polygon points="765.7,1517.9 766.5,1519.9 768.6,1520.0 766.9,1521.3 767.5,1523.3 765.7,1522.2 763.9,1523.3 764.5,1521.3 762.9,1520.0 765.0,1519.9" fill="#fff"/>
<polygon points="690.8,1519.3 691.6,1521.3 693.7,1521.4 692.0,1522.7 692.6,1524.7 690.8,1523.6 689.1,1524.7 689.6,1522.7 688.0,1521.4 690.1,1521.3" fill="#fff"/>
<polygon points="733.8,1533.2 734.6,1535.1 736.7,1535.2 735.0,1536.6 735.6,1538.6 733.8,1537.4 732.1,1538.6 732.6,1536.6 731.0,1535.2 733.1,1535.1" fill="#fff"/>
<polygon points="457.9,1542.9 458.7,1544.8 460.8,1544.9 459.1,1546.3 459.7,1548.3 457.9,1547.1 456.2,1548.3 456.7,1546.3 455.1,1544.9 457.2,1544.8" fill="#fff"/>
<polygon points="591.0,1551.2 591.8,1553.2 593.9,1553.3 592.2,1554.6 592.8,1556.6 591.0,1555.4 589.3,1556.6 589.8,1554.6 588.2,1553.3 590.3,1553.2" fill="#fff"/>
<polygon points="693.6,1545.6 694.4,1547.6 696.5,1547.7 694.8,1549.0 695.4,1551.1 693.6,1549.9 691.9,1551.1 692.4,1549.0 690.8,1547.7 692.9,1547.6" fill="#fff"/>
<polygon points="825.3,1554.0 826.1,1555.9 828.2,1556.0 826.5,1557.3 827.1,1559.4 825.3,1558.2 823.6,1559.4 824.1,1557.3 822.5,1556.0 824.6,1555.9" fill="#fff"/>
<polygon points="602.1,1565.0 602.9,1567.0 605.0,1567.1 603.3,1568.4 603.9,1570.5 602.1,1569.3 600.4,1570.5 600.9,1568.4 599.3,1567.1 601.4,1567.0" fill="#fff"/>
<polygon points="638.2,1562.3 638.9,1564.3 641.0,1564.3 639.4,1565.7 639.9,1567.7 638.2,1566.5 636.4,1567.7 637.0,1565.7 635.3,1564.3 637.4,1564.3" fill="#fff"/>
<polygon points="503.7,1583.1 504.4,1585.1 506.5,1585.1 504.9,1586.5 505.4,1588.5 503.7,1587.3 501.9,1588.5 502.5,1586.5 500.8,1585.1 502.9,1585.1" fill="#fff"/>
<polygon points="509.2,1588.6 510.0,1590.6 512.1,1590.7 510.4,1592.0 511.0,1594.0 509.2,1592.9 507.5,1594.0 508.0,1592.0 506.4,1590.7 508.5,1590.6" fill="#fff"/>
<polygon points="563.3,1608.0 564.0,1610.0 566.2,1610.1 564.5,1611.4 565.1,1613.5 563.3,1612.3 561.5,1613.5 562.1,1611.4 560.4,1610.1 562.6,1610.0" fill="#fff"/>
<polygon points="485.7,1627.4 486.4,1629.4 488.5,1629.5 486.9,1630.8 487.4,1632.9 485.7,1631.7 483.9,1632.9 484.5,1630.8 482.8,1629.5 484.9,1629.4" fill="#fff"/>
<path d="M 397,1684 L 589,1628 L 760,1612 L 914,1637 L 914,1641 L 817,1672 L 675,1733 C 570,1704 470,1691 397,1684 Z" fill="#ea1f25"/>
<path d="M 397,1684 C 470,1691 570,1704 675,1733 L 675,1788 L 398,1726 Z" fill="#f5f6f8"/>
<path d="M 675,1733 C 740,1705 800,1680 914,1640 L 914,1676 L 675,1788 Z" fill="#f5f6f8"/>
<path d="M 397,1684 L 398,1726" stroke="#676767" stroke-width="3.5" fill="none" stroke-linecap="round" stroke-linejoin="round"/>
<path d="M 398,1727 L 675,1789 L 914,1676" stroke="#676767" stroke-width="8.0" fill="none" stroke-linecap="butt" stroke-linejoin="round"/>
<path d="M 914,1640 L 914,1676" stroke="#676767" stroke-width="4.0" fill="none" stroke-linecap="butt" stroke-linejoin="round"/>
<path d="M 675,1734 C 668,1750 668,1770 675,1786 C 682,1770 682,1750 675,1734 Z" fill="#676767"/>
<path d="M 586,1618 C 592,1608 605,1600 625,1592 C 645,1585 660,1580 668,1572 C 674,1566 690,1568 700,1572 C 720,1574 745,1572 765,1582 C 772,1586 778,1590 785,1590 C 810,1592 840,1597 860,1601 C 885,1607 905,1614 915,1624 C 905,1632 880,1640 850,1652 C 842,1656 838,1668 830,1666 C 822,1664 820,1660 810,1659 C 780,1655 750,1650 722,1643 C 716,1648 710,1655 703,1653 C 696,1650 694,1644 688,1643 C 660,1638 620,1630 586,1618 Z" fill="#fff" stroke="#fff" stroke-width="9" stroke-linejoin="round"/>
<path d="M 596,1623 C 630,1632 660,1638 688,1642 C 694,1644 697,1650 703,1651 C 710,1652 714,1646 722,1643" stroke="#888" stroke-width="1.8" fill="none" stroke-linecap="round" stroke-linejoin="round"/>
<path d="M 722,1645 C 750,1650 780,1654 810,1657 C 818,1659 822,1664 830,1664 C 838,1664 842,1655 850,1651 C 875,1642 900,1633 913,1626" stroke="#888" stroke-width="1.8" fill="none" stroke-linecap="round" stroke-linejoin="round"/>
<path d="M 738,1582 C 752,1585 768,1590 778,1594" stroke="#888" stroke-width="1.5" fill="none" stroke-linecap="round" stroke-linejoin="round"/>
<path d="M 858,1601 C 880,1606 900,1613 912,1621" stroke="#888" stroke-width="1.5" fill="none" stroke-linecap="round" stroke-linejoin="round"/>
<path d="M 714,1625 C 725,1610 745,1603 764,1602 C 748,1607 730,1614 714,1625 Z" fill="#676767" stroke="#676767" stroke-width="3"/>
<path d="M 841,1644 C 852,1630 872,1622 890,1622 C 874,1627 856,1634 841,1644 Z" fill="#676767" stroke="#676767" stroke-width="3"/>
<path d="M 392,1746 L 675,1813 L 926,1693" stroke="#ea1f25" stroke-width="4.5" fill="none" stroke-linecap="round" stroke-linejoin="round"/>
<path d="M 428.5,1737.4 L 391.6,1745.8 L 408.5,1772.2" stroke="#ea1f25" stroke-width="4.5" fill="none" stroke-linecap="round" stroke-linejoin="round"/>
<path d="M 894.9,1694 L 927.3,1692.4 L 913,1725.6" stroke="#ea1f25" stroke-width="4.5" fill="none" stroke-linecap="round" stroke-linejoin="round"/>
</g>
<text transform="translate(929.60,1649.0) scale(0.9869,1)" font-family="Liberation Sans" font-weight="bold" font-size="81" fill="#6b6b6b">200</text>
<text transform="translate(1082.90,1649.0) scale(0.9877,1)" font-family="Liberation Sans" font-weight="bold" font-size="81" fill="#6b6b6b">x</text>
<text transform="translate(1151.45,1649.0) scale(0.9361,1)" font-family="Liberation Sans" font-weight="bold" font-size="81" fill="#6b6b6b">125</text>
</svg></body></html>
